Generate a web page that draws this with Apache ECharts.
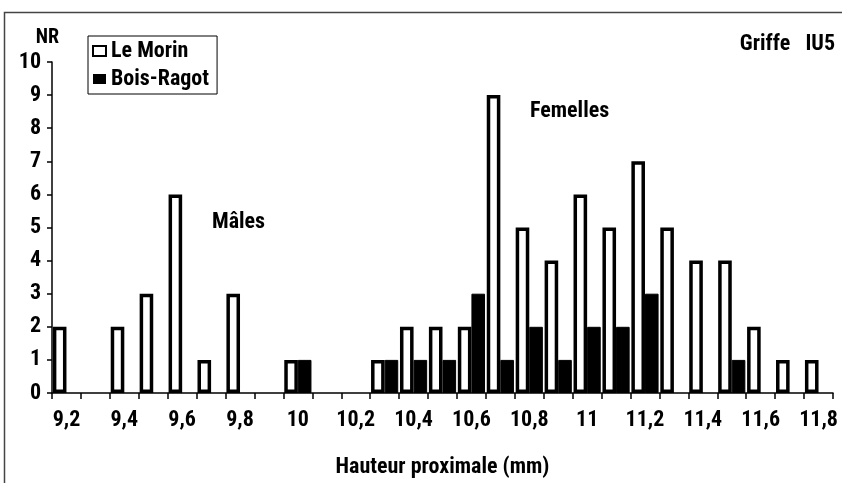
<!DOCTYPE html>
<html>
<head>
<meta charset="utf-8">
<script src="https://cdn.jsdelivr.net/npm/echarts@6/dist/echarts.min.js"></script>
<style>
  html, body { margin: 0; padding: 0; background: #fff; }
  #chart { width: 842px; height: 483px; }
</style>
</head>
<body>
<div id="chart"></div>
<script>
// Proximal height classes (mm), 0.1 mm steps
const classes = ['9,2','9,3','9,4','9,5','9,6','9,7','9,8','9,9','10','10,1','10,2','10,3','10,4','10,5',
                 '10,6','10,7','10,8','10,9','11','11,1','11,2','11,3','11,4','11,5','11,6','11,7','11,8'];
// Number of remains (NR) per class
const leMorin   = [2,0,2,3,6,1,3,0,1,0,0,1,2,2,2,9,5,4,6,5,7,5,4,4,2,1,1];
const boisRagot = [0,0,0,0,0,0,0,0,1,0,0,1,1,1,3,1,2,1,2,2,3,0,0,1,0,0,0];
const yTicks = [0,1,2,3,4,5,6,7,8,9,10];

const FONT = '"Roboto Condensed", "Open Sans Condensed", sans-serif';
const FS = 22;
const hideZero = arr => arr.map(v => (v === 0 ? null : v));

const chart = echarts.init(document.getElementById('chart'), null, { renderer: 'canvas' });

chart.setOption({
  animation: false,
  backgroundColor: '#fff',
  textStyle: { fontFamily: FONT, fontWeight: 'bold', color: '#000' },
  grid: { left: 52, right: 9, top: 62, bottom: 81, containLabel: false },
  legend: {
    orient: 'vertical',
    left: 88, top: 36,
    padding: [4, 8, 4, 4],
    itemGap: 6,
    itemWidth: 13, itemHeight: 10,
    borderColor: '#000', borderWidth: 1,
    textStyle: { fontFamily: FONT, fontWeight: 'bold', fontSize: FS, color: '#000', padding: [0, 0, 0, 0] },
    data: [
      { name: 'Le Morin', icon: 'rect', itemStyle: { color: '#fff', borderColor: '#000', borderWidth: 2 } },
      { name: 'Bois-Ragot', icon: 'rect', itemStyle: { color: '#000', borderWidth: 0 } }
    ]
  },
  xAxis: {
    type: 'category',
    data: classes,
    name: 'Hauteur proximale (mm)',
    nameLocation: 'middle',
    nameGap: 63,
    nameTextStyle: { fontFamily: FONT, fontWeight: 'bold', fontSize: FS, color: '#000' },
    axisLine: { lineStyle: { color: '#000', width: 1.5 } },
    axisTick: { show: true, interval: 0, length: 6, lineStyle: { color: '#000', width: 1.5 } },
    axisLabel: { interval: 1, margin: 16, fontFamily: FONT, fontWeight: 'bold', fontSize: FS, color: '#000' },
    splitLine: { show: false }
  },
  yAxis: {
    type: 'value',
    min: yTicks[0], max: yTicks[yTicks.length - 1], interval: 1,
    name: 'NR',
    nameLocation: 'end',
    nameGap: 14,
    nameTextStyle: { fontFamily: FONT, fontWeight: 'bold', fontSize: 20, color: '#000', padding: [0, 9, 0, 0] },
    axisLine: { show: true, lineStyle: { color: '#000', width: 1.5 } },
    axisTick: { show: true, length: 5, lineStyle: { color: '#000', width: 1.5 } },
    axisLabel: { margin: 11, fontFamily: FONT, fontWeight: 'bold', fontSize: FS, color: '#000' },
    splitLine: { show: false }
  },
  series: [
    {
      name: 'Le Morin',
      type: 'bar',
      data: hideZero(leMorin),
      barGap: '0%',
      barCategoryGap: '6%',
      itemStyle: { color: '#fff', borderColor: '#000', borderWidth: 3.5 }
    },
    {
      name: 'Bois-Ragot',
      type: 'bar',
      data: hideZero(boisRagot),
      itemStyle: { color: '#000', borderColor: '#000', borderWidth: 1 }
    }
  ],
  graphic: [
    {
      type: 'rect', silent: true, z: -1,
      shape: { x: 4.5, y: 12.5, width: 900, height: 520 },
      style: { fill: 'none', stroke: '#444', lineWidth: 1.5 }
    },
    {
      type: 'text', x: 212, y: 222,
      style: { text: 'Mâles', font: 'bold ' + FS + 'px ' + FONT, fill: '#000', textVerticalAlign: 'middle' }
    },
    {
      type: 'text', x: 530, y: 111,
      style: { text: 'Femelles', font: 'bold ' + FS + 'px ' + FONT, fill: '#000', textVerticalAlign: 'middle' }
    },
    {
      type: 'text', x: 835, y: 44,
      style: { text: 'Griffe   IU5', font: 'bold ' + FS + 'px ' + FONT, fill: '#000', textAlign: 'right', textVerticalAlign: 'middle' }
    }
  ]
});
</script>
</body>
</html>
